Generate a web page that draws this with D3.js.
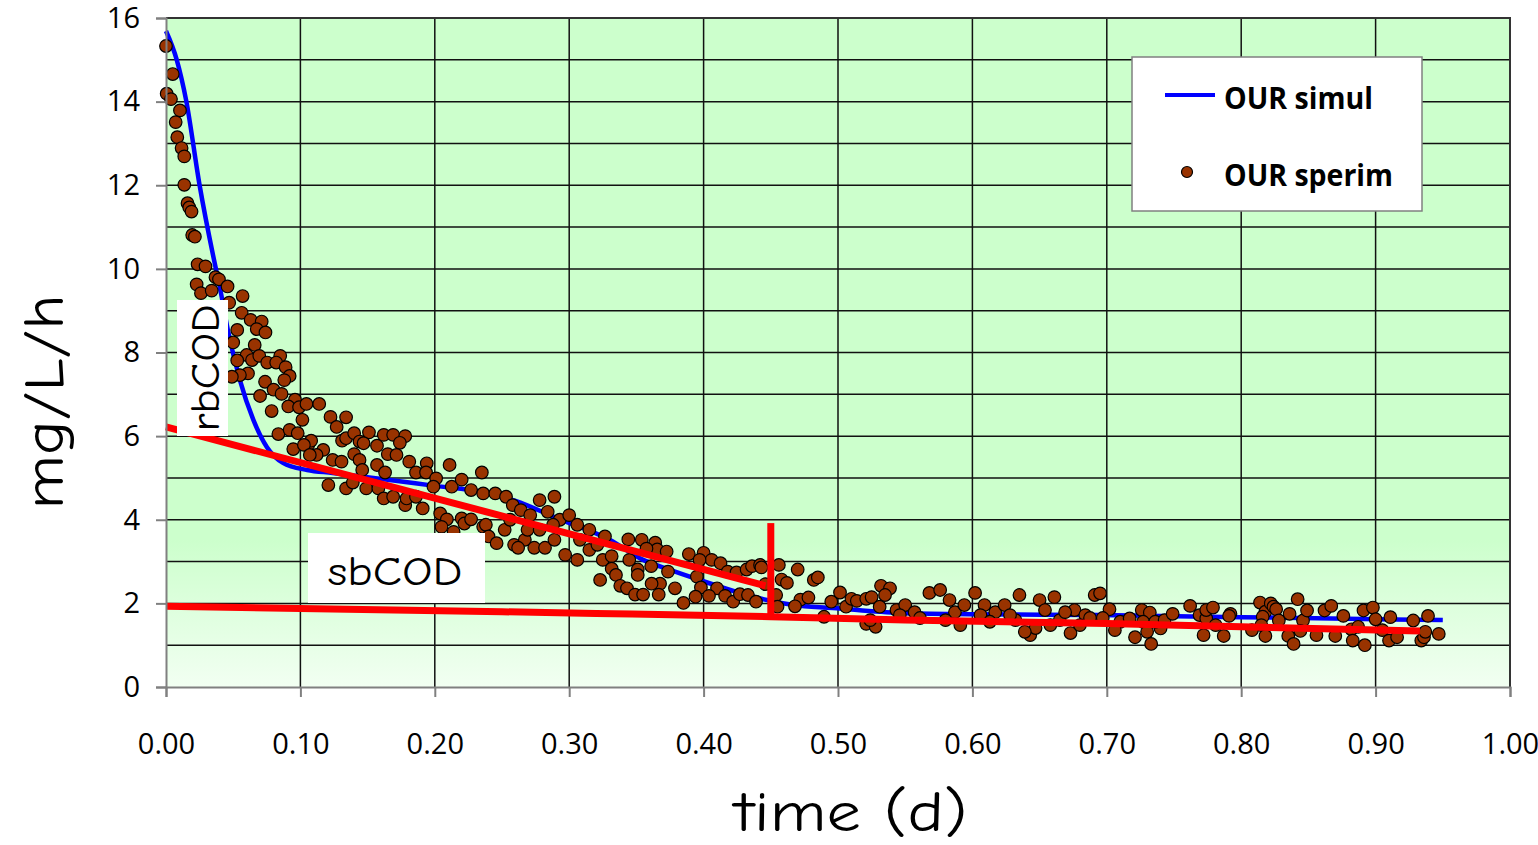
<!DOCTYPE html>
<html>
<head>
<meta charset="utf-8">
<script src="https://cdn.jsdelivr.net/npm/d3@7"></script>
<style>
  html, body { margin: 0; padding: 0; background: #fff; }
  svg { display: block; }
</style>
</head>
<body>
<svg id="chart" width="1538" height="845"></svg>
<script>
// ---- data -------------------------------------------------------------
const xTickValues = [0, 0.1, 0.2, 0.3, 0.4, 0.5, 0.6, 0.7, 0.8, 0.9, 1.0];
const yTickValues = [0, 2, 4, 6, 8, 10, 12, 14, 16];
const yGridValues = d3.range(0, 17, 1);

// simulated OUR (model)
const simTime = [0, 0.008, 0.015, 0.025, 0.037, 0.040, 0.046, 0.055, 0.065, 0.075, 0.087, 0.105, 0.124, 0.162, 0.20, 0.236, 0.26, 0.29, 0.33, 0.355, 0.375, 0.397, 0.427, 0.447, 0.467, 0.496, 0.546, 0.60, 0.695, 0.80, 0.95];
const simOUR  = [15.69, 15.0, 14.03, 12.0, 10.02, 9.57, 8.54, 7.34, 6.39, 5.74, 5.36, 5.19, 5.12, 4.97, 4.81, 4.66, 4.45, 4.05, 3.52, 3.04, 2.80, 2.56, 2.25, 2.08, 1.96, 1.89, 1.77, 1.74, 1.72, 1.67, 1.60];

// measured OUR (respirometry)
const expTime = [
  0.000, 0.005, 0.0005, 0.0037, 0.0104, 0.0072, 0.0084, 0.0116, 0.0136, 0.0136, 0.016, 0.0173, 0.019, 0.0195, 0.0215, 0.0235, 0.0294, 0.0368, 0.0394, 0.0458, 0.0228, 0.026, 0.034, 0.047, 0.057,
  0.0563, 0.063, 0.0712, 0.0675, 0.074, 0.053, 0.050, 0.066, 0.060, 0.064, 0.053, 0.0694, 0.0753, 0.085, 0.082, 0.089, 0.061, 0.055, 0.049, 0.092, 0.088, 0.0737, 0.080, 0.086, 0.070,
  0.096, 0.091, 0.099, 0.1045, 0.114, 0.0786, 0.1015, 0.1224, 0.134, 0.127, 0.0836, 0.092, 0.098, 0.106, 0.108, 0.0947, 0.1026, 0.117, 0.112, 0.107, 0.124, 0.1306, 0.1208, 0.134, 0.139,
  0.131, 0.134, 0.140, 0.144, 0.151, 0.147, 0.140, 0.144, 0.157, 0.162, 0.169, 0.178, 0.174, 0.165, 0.1715, 0.181, 0.157, 0.163, 0.146, 0.149, 0.158, 0.162, 0.169, 0.178, 0.179,
  0.186, 0.194, 0.1935, 0.186, 0.191, 0.201, 0.199, 0.211, 0.2126, 0.22, 0.227, 0.235, 0.204, 0.209, 0.205, 0.214, 0.22, 0.222, 0.227, 0.236, 0.238, 0.240, 0.246, 0.236, 0.245,
  0.253, 0.258, 0.264, 0.271, 0.278, 0.289, 0.284, 0.293, 0.300, 0.306, 0.315, 0.252, 0.259, 0.267, 0.274, 0.282, 0.289, 0.297, 0.306, 0.315, 0.308, 0.321, 0.256, 0.269, 0.278, 0.288, 0.262,
  0.3266, 0.344, 0.354, 0.364, 0.3655, 0.3725, 0.3575, 0.325, 0.3316, 0.3447, 0.361, 0.351, 0.3316, 0.3348, 0.351, 0.3735, 0.3787, 0.3676, 0.3613, 0.323, 0.338, 0.343, 0.349, 0.355, 0.3666, 0.385,
  0.389, 0.400, 0.406, 0.4126, 0.397, 0.395, 0.398, 0.410, 0.418, 0.4245, 0.432, 0.436, 0.442, 0.443, 0.456, 0.470, 0.458, 0.462, 0.482, 0.485, 0.394, 0.404, 0.416, 0.422, 0.427, 0.433, 0.439,
  0.446, 0.454, 0.455, 0.472, 0.478, 0.468, 0.4896, 0.495, 0.5015, 0.506, 0.510, 0.514, 0.521, 0.525, 0.531, 0.532, 0.5387, 0.535, 0.521, 0.528, 0.5435, 0.524,
  0.550, 0.557, 0.568, 0.576, 0.583, 0.587, 0.594, 0.602, 0.609, 0.617, 0.624, 0.632, 0.635, 0.643, 0.650, 0.654, 0.661, 0.665, 0.673, 0.676, 0.684, 0.691, 0.658, 0.647, 0.639,
  0.546, 0.561, 0.580, 0.591, 0.606, 0.613, 0.628, 0.669, 0.680, 0.6875,
  0.695, 0.702, 0.697, 0.710, 0.717, 0.706, 0.721, 0.726, 0.732, 0.727, 0.730, 0.733, 0.740, 0.736, 0.743, 0.749, 0.762, 0.769, 0.772, 0.774, 0.774, 0.779, 0.781, 0.787, 0.792, 0.791,
  0.814, 0.818, 0.822, 0.824, 0.826, 0.816, 0.815, 0.808, 0.818, 0.828, 0.835, 0.839, 0.836, 0.842, 0.846, 0.844, 0.849, 0.856, 0.862, 0.867, 0.870, 0.876, 0.882, 0.883, 0.887, 0.891,
  0.892, 0.898, 0.900, 0.905, 0.910, 0.911, 0.916, 0.928, 0.934, 0.936, 0.937, 0.939, 0.947
];
const expOUR = [
  15.33, 14.66, 14.19, 14.06, 13.79, 13.51, 13.15, 12.89, 12.69, 12.01, 11.57, 11.47, 11.37, 10.81, 10.77, 10.11, 10.06, 9.80, 9.75, 9.58, 9.63, 9.42, 9.48, 9.19, 9.35,
  8.95, 8.78, 8.74, 8.56, 8.48, 8.54, 8.24, 8.18, 7.94, 7.82, 7.81, 7.92, 7.76, 7.92, 7.76, 7.65, 7.50, 7.46, 7.42, 7.44, 7.34, 7.30, 7.11, 7.01, 6.96,
  6.87, 6.71, 6.69, 6.77, 6.77, 6.60, 6.39, 6.46, 6.45, 6.22, 6.05, 6.15, 6.07, 5.80, 5.89, 5.69, 5.79, 5.67, 5.55, 5.55, 5.43, 5.39, 4.83, 4.75, 4.89,
  5.89, 5.95, 6.07, 5.87, 6.09, 5.83, 5.57, 5.43, 5.77, 6.03, 6.03, 6.00, 5.84, 5.57, 5.55, 5.39, 5.31, 5.13, 5.19, 4.75, 4.75, 4.51, 4.55, 4.35, 4.51,
  5.13, 5.35, 5.13, 4.55, 4.27, 4.99, 4.79, 5.31, 4.79, 4.96, 4.71, 5.13, 4.15, 4.01, 3.83, 3.71, 4.03, 3.91, 4.01, 3.83, 3.88, 3.60, 3.44, 4.63, 4.63,
  4.55, 4.35, 4.23, 4.11, 4.47, 4.55, 4.19, 4.00, 4.11, 3.88, 3.76, 3.76, 3.40, 3.52, 3.33, 3.33, 3.52, 3.16, 3.04, 3.28, 3.52, 3.40, 4.00, 3.76, 3.76, 3.88, 3.33,
  3.60, 3.53, 3.52, 3.45, 3.29, 3.24, 3.31, 3.04, 3.13, 3.04, 2.89, 2.81, 2.83, 2.68, 2.68, 2.76, 2.36, 2.47, 2.47, 2.56, 2.42, 2.36, 2.21, 2.21, 2.21, 2.01,
  3.18, 3.21, 3.04, 2.96, 3.04, 2.64, 2.38, 2.36, 2.76, 2.74, 2.81, 2.89, 2.92, 2.86, 2.92, 2.81, 2.57, 2.49, 2.56, 2.62, 2.16, 2.18, 2.18, 2.04, 2.22, 2.20, 2.04,
  2.46, 2.20, 1.92, 2.09, 2.14, 1.93, 1.68, 2.04, 2.26, 1.92, 2.11, 2.06, 2.11, 2.15, 1.92, 2.42, 2.36, 2.20, 1.51, 1.44, 1.84, 1.60,
  1.96, 1.79, 2.25, 2.32, 2.08, 1.79, 1.96, 2.25, 1.96, 1.79, 1.96, 1.60, 2.20, 1.24, 2.08, 1.84, 2.15, 1.60, 1.29, 1.84, 1.72, 2.20, 1.48, 1.41, 1.32,
  1.72, 1.65, 1.60, 1.48, 1.72, 1.56, 1.72, 1.79, 1.48, 1.65,
  2.24, 1.86, 1.65, 1.56, 1.64, 1.36, 1.19, 1.84, 1.78, 1.56, 1.32, 1.03, 1.40, 1.56, 1.60, 1.75, 1.94, 1.72, 1.24, 1.64, 1.84, 1.90, 1.48, 1.22, 1.75, 1.70,
  2.02, 1.80, 2.00, 1.92, 1.86, 1.68, 1.48, 1.36, 1.22, 1.59, 1.22, 1.03, 1.75, 2.10, 1.59, 1.34, 1.83, 1.24, 1.83, 1.94, 1.22, 1.70, 1.38, 1.11, 1.44, 1.83,
  1.00, 1.90, 1.62, 1.36, 1.11, 1.67, 1.19, 1.59, 1.11, 1.19, 1.32, 1.70, 1.27
];

// graphical decomposition of the respirogram
const rbLineTime = [0, 0.446];
const rbLineOUR  = [6.22, 2.42];
const sbLineTime = [0, 0.25, 0.32, 0.45, 0.55, 0.70, 0.80, 0.933];
const sbLineOUR  = [1.93, 1.80, 1.76, 1.68, 1.60, 1.52, 1.44, 1.34];
const cutTime = [0.45, 0.45];
const cutOUR  = [3.92, 1.67];

const legendLabels = ["OUR simul", "OUR sperim"];

// ---- layout -------------------------------------------------------------
const svg = d3.select("#chart");
const plotLeft = 166, plotRight = 1510, plotTop = 18, plotBottom = 687;

const x = d3.scaleLinear().domain([0, 1]).range([plotLeft, plotRight]);
const y = d3.scaleLinear().domain([0, 16]).range([plotBottom, plotTop]);

const zip = (a, b) => a.map((v, i) => [v, b[i]]);

// plot-area fill: pale green, lightening towards the bottom
const defs = svg.append("defs");
const grad = defs.append("linearGradient")
  .attr("id", "plotFill").attr("x1", 0).attr("y1", 0).attr("x2", 0).attr("y2", 1);
grad.append("stop").attr("offset", "0").attr("stop-color", "#ccffcc");
grad.append("stop").attr("offset", "0.78").attr("stop-color", "#ccffcc");
grad.append("stop").attr("offset", "1").attr("stop-color", "#f2fff2");

svg.append("rect")
  .attr("x", plotLeft).attr("y", plotTop)
  .attr("width", plotRight - plotLeft).attr("height", plotBottom - plotTop)
  .attr("fill", "url(#plotFill)");

// grid
const grid = svg.append("g");
grid.selectAll("line.h").data(yGridValues.filter(v => v > 0 && v < 16)).join("line")
  .attr("x1", plotLeft).attr("x2", plotRight)
  .attr("y1", d => y(d)).attr("y2", d => y(d))
  .attr("stroke", "#111").attr("stroke-width", 1.5);
grid.selectAll("line.v").data(xTickValues.filter(v => v > 0 && v < 1)).join("line")
  .attr("x1", d => x(d)).attr("x2", d => x(d))
  .attr("y1", plotTop).attr("y2", plotBottom)
  .attr("stroke", "#111").attr("stroke-width", 1.5);

// plot border (top / right)
svg.append("path")
  .attr("d", `M${plotLeft},${plotTop}H${plotRight}V${plotBottom}`)
  .attr("fill", "none").attr("stroke", "#333").attr("stroke-width", 2);

// simulated curve
svg.append("path")
  .datum(zip(simTime, simOUR))
  .attr("d", d3.line().x(d => x(d[0])).y(d => y(d[1])).curve(d3.curveMonotoneX))
  .attr("fill", "none").attr("stroke", "#0000ff").attr("stroke-width", 4.5);

// measured points
svg.append("g").selectAll("circle")
  .data(zip(expTime, expOUR)).join("circle")
  .attr("cx", d => x(d[0])).attr("cy", d => y(d[1])).attr("r", 6.3)
  .attr("fill", "#993300").attr("stroke", "#000").attr("stroke-width", 1.2);

// decomposition lines
const straight = d3.line().x(d => x(d[0])).y(d => y(d[1]));
svg.append("path").datum(zip(rbLineTime, rbLineOUR))
  .attr("d", straight).attr("fill", "none").attr("stroke", "#ff0000").attr("stroke-width", 7);
svg.append("path").datum(zip(sbLineTime, sbLineOUR))
  .attr("d", d3.line().x(d => x(d[0])).y(d => y(d[1])).curve(d3.curveMonotoneX))
  .attr("fill", "none").attr("stroke", "#ff0000").attr("stroke-width", 7);
svg.append("path").datum(zip(cutTime, cutOUR))
  .attr("d", straight).attr("fill", "none").attr("stroke", "#ff0000").attr("stroke-width", 7);

// annotation labels
const hand = "'Comic Sans MS', 'Comic Neue', 'DejaVu Sans', sans-serif";
svg.append("rect").attr("x", 177).attr("y", 300).attr("width", 51).attr("height", 136).attr("fill", "#fff");
svg.append("text")
  .attr("transform", "translate(219,368) rotate(-90)")
  .attr("text-anchor", "middle")
  .attr("font-family", hand).attr("font-size", 41)
  .attr("textLength", 127).attr("lengthAdjust", "spacingAndGlyphs")
  .text("rbCOD");

svg.append("rect").attr("x", 308).attr("y", 533).attr("width", 177).attr("height", 70).attr("fill", "#fff");
svg.append("text")
  .attr("x", 395).attr("y", 585)
  .attr("text-anchor", "middle")
  .attr("font-family", hand).attr("font-size", 40)
  .attr("textLength", 135).attr("lengthAdjust", "spacingAndGlyphs")
  .text("sbCOD");

// axes
const tickFont = "'Open Sans', Lato, sans-serif";
const xAxis = d3.axisBottom(x).tickValues(xTickValues).tickFormat(d3.format(".2f")).tickSize(10).tickPadding(36);
const gx = svg.append("g").attr("transform", `translate(0,${plotBottom})`).call(xAxis);
gx.select(".domain").attr("stroke", "#808080").attr("stroke-width", 2);
gx.selectAll(".tick line").attr("stroke", "#808080").attr("stroke-width", 2);
gx.selectAll(".tick text").attr("font-family", tickFont).attr("font-size", 29).attr("fill", "#000");

const yAxis = d3.axisLeft(y).tickValues(yTickValues).tickFormat(d3.format("d")).tickSize(10).tickPadding(16);
const gy = svg.append("g").attr("transform", `translate(${plotLeft},0)`).call(yAxis);
gy.select(".domain").attr("stroke", "#808080").attr("stroke-width", 2);
gy.selectAll(".tick line").attr("stroke", "#808080").attr("stroke-width", 2);
gy.selectAll(".tick text").attr("font-family", tickFont).attr("font-size", 29).attr("fill", "#000");

// axis titles
svg.append("text")
  .attr("x", 851).attr("y", 831)
  .attr("text-anchor", "middle")
  .attr("font-family", hand).attr("font-size", 56)
  .attr("textLength", 233).attr("lengthAdjust", "spacingAndGlyphs")
  .text("time (d)");

svg.append("text")
  .attr("transform", "translate(63,402) rotate(-90)")
  .attr("text-anchor", "middle")
  .attr("font-family", hand).attr("font-size", 56)
  .attr("textLength", 215).attr("lengthAdjust", "spacingAndGlyphs")
  .text("mg/L/h");

// legend
const lg = svg.append("g");
lg.append("rect").attr("x", 1132).attr("y", 57).attr("width", 290).attr("height", 154)
  .attr("fill", "#fff").attr("stroke", "#808080").attr("stroke-width", 1.5);
lg.append("line").attr("x1", 1165).attr("x2", 1215).attr("y1", 95).attr("y2", 95)
  .attr("stroke", "#0000ff").attr("stroke-width", 4);
lg.append("circle").attr("cx", 1187).attr("cy", 172).attr("r", 5.5)
  .attr("fill", "#993300").attr("stroke", "#000").attr("stroke-width", 1.2);
lg.selectAll("text").data(legendLabels).join("text")
  .attr("x", 1224).attr("y", (d, i) => i === 0 ? 109 : 186)
  .attr("font-family", tickFont).attr("font-weight", 700).attr("font-size", 31)
  .attr("textLength", (d, i) => i === 0 ? 149 : 169).attr("lengthAdjust", "spacingAndGlyphs")
  .text(d => d);
</script>
</body>
</html>
